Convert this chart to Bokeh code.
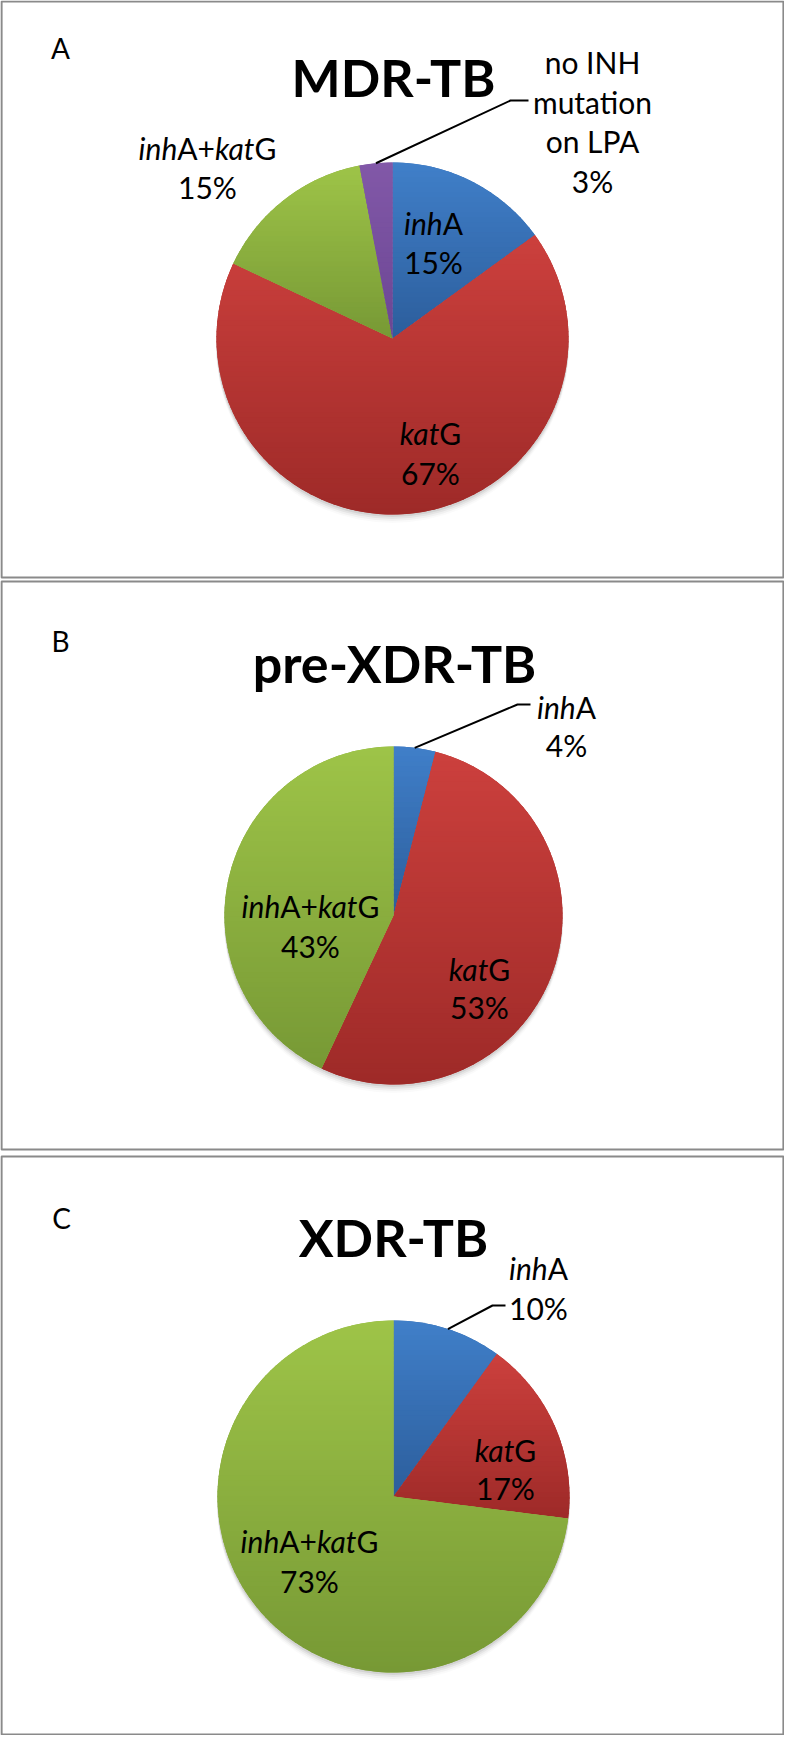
import os, glob
import numpy as np
from bokeh.plotting import figure
from bokeh.models import Range1d
from bokeh.embed import file_html
from bokeh.resources import INLINE
from bokeh.core.properties import value

# ---------------- data ----------------
panel_letters = ["A", "B", "C"]
panel_titles = ["MDR-TB", "pre-XDR-TB", "XDR-TB"]

mdr_categories = ["inhA", "katG", "inhA+katG", "no INH mutation on LPA"]
mdr_values = [15, 67, 15, 3]

prexdr_categories = ["inhA", "katG", "inhA+katG"]
prexdr_values = [4, 53, 43]

xdr_categories = ["inhA", "katG", "inhA+katG"]
xdr_values = [10, 17, 73]

# ---------------- styles ----------------
GRAD = {  # top colour, bottom colour
    "inhA": ((64, 127, 201), (44, 94, 156)),
    "katG": ((204, 64, 61), (158, 42, 40)),
    "inhA+katG": ((158, 196, 72), (119, 153, 53)),
    "no INH mutation on LPA": ((130, 88, 168), (107, 70, 147)),
}
FONT = "Lato"
LABEL_PX = 30
TITLE_PX = 52
LETTER_PX = 28

PAGE_H = 1751
def Y(py):
    return PAGE_H - py

# ---------------- text measurement ----------------
try:
    from PIL import ImageFont
except Exception:
    ImageFont = None

def _find(patterns):
    dirs = ["/usr/share/fonts", "/usr/local/share/fonts",
            os.path.expanduser("~/.fonts"), os.path.expanduser("~/.local/share/fonts")]
    for pat in patterns:
        for d in dirs:
            hits = glob.glob(os.path.join(d, "**", pat), recursive=True)
            if hits:
                return sorted(hits)[0]
    return None

FONT_FILES = {
    "normal": _find(["Lato-Regular.ttf", "Lato-Reg*.ttf"]),
    "italic": _find(["Lato-Italic.ttf", "Lato-*Italic.ttf"]),
    "bold": _find(["Lato-Bold.ttf"]),
}
_cache = {}
def text_width(txt, style, px):
    key = (style, px)
    if key not in _cache:
        f = None
        if ImageFont is not None and FONT_FILES.get(style):
            try:
                f = ImageFont.truetype(FONT_FILES[style], px)
            except Exception:
                f = None
        _cache[key] = f
    f = _cache[key]
    if f is not None:
        try:
            return f.getlength(txt)
        except Exception:
            pass
    return 0.52 * px * len(txt)

def segments(line):
    """split gene names into italic/regular pieces"""
    if line == "inhA+katG":
        return [("inh", "italic"), ("A+", "normal"), ("kat", "italic"), ("G", "normal")]
    if line == "inhA":
        return [("inh", "italic"), ("A", "normal")]
    if line == "katG":
        return [("kat", "italic"), ("G", "normal")]
    return [(line, "normal")]

# ---------------- figure ----------------
p = figure(width=784, height=1735, x_range=Range1d(8, 792), y_range=Range1d(8, 1743),
           output_backend="svg", toolbar_location=None, min_border=0)
p.axis.visible = False
p.grid.visible = False
p.outline_line_color = None
p.background_fill_color = "white"
p.border_fill_color = "white"

def draw_text(line, cx, base_py, px=LABEL_PX):
    segs = segments(line)
    widths = [text_width(t, s, px) for t, s in segs]
    x = cx - sum(widths) / 2.0
    for (t, s), w in zip(segs, widths):
        p.text(x=[x], y=[Y(base_py)], text=[t], text_font=value(FONT),
               text_font_size=value(f"{px}px"), text_font_style=s,
               text_align="left", text_baseline="alphabetic", text_color="black")
        x += w

def clip(poly, y0, keep_above):
    out = []
    n = len(poly)
    for i in range(n):
        P = poly[i]; Q = poly[(i + 1) % n]
        inP = P[1] >= y0 if keep_above else P[1] <= y0
        inQ = Q[1] >= y0 if keep_above else Q[1] <= y0
        if inP:
            out.append(P)
        if inP != inQ:
            t = (y0 - P[1]) / (Q[1] - P[1])
            out.append((P[0] + t * (Q[0] - P[0]), y0))
    return out

def hexc(c):
    return "#%02x%02x%02x" % tuple(int(round(v)) for v in c)

def draw_pie(cats, vals, cx_py, cy_py, r):
    cx, cy = cx_py, Y(cy_py)
    # soft shadow
    for dy, a in [(2, 0.07), (4, 0.05), (6, 0.035), (8, 0.02)]:
        p.ellipse(x=[cx], y=[cy - dy], width=[2 * r + 1], height=[2 * r + 1],
                  fill_color="black", fill_alpha=a, line_color=None)
    frac = np.array(vals, dtype=float) / float(sum(vals))
    ends = np.cumsum(frac) * 2 * np.pi
    starts = ends - frac * 2 * np.pi
    mids = {}
    for cat, b0, b1 in zip(cats, starts, ends):
        top, bot = GRAD[cat]
        mid = tuple((a + b) / 2 for a, b in zip(top, bot))
        p.wedge(x=[cx], y=[cy], radius=r, start_angle=np.pi / 2 - b1, end_angle=np.pi / 2 - b0,
                direction="anticlock", fill_color=hexc(mid), line_color=None)
        # gradient overlay (top -> bottom) clipped to slice
        nseg = max(8, int((b1 - b0) / (2 * np.pi) * 240))
        th = np.linspace(np.pi / 2 - b1, np.pi / 2 - b0, nseg)
        poly = [(cx, cy)] + [(cx + r * np.cos(t), cy + r * np.sin(t)) for t in th]
        ys = [q[1] for q in poly]
        ymin, ymax = min(ys), max(ys)
        nb = max(2, int((ymax - ymin) / 5))
        edges = np.linspace(ymax, ymin, nb + 1)
        xs_l, ys_l, cols = [], [], []
        for k in range(nb):
            hi = edges[k] + 0.7
            lo = edges[k + 1] - 0.7
            sub = clip(clip(poly, hi, False), lo, True)
            if len(sub) < 3:
                continue
            t = (k + 0.5) / nb
            c = tuple(a + (b - a) * t for a, b in zip(top, bot))
            xs_l.append([q[0] for q in sub]); ys_l.append([q[1] for q in sub]); cols.append(hexc(c))
        if xs_l:
            p.patches(xs=xs_l, ys=ys_l, fill_color=cols, line_color=None)
        mids[cat] = (b0 + b1) / 2
    return mids

def leader(cx_py, cy_py, r, bearing, elbow, end):
    sx = cx_py + r * np.sin(bearing)
    sy = cy_py - r * np.cos(bearing)
    p.line(x=[sx, elbow[0], end[0]], y=[Y(sy), Y(elbow[1]), Y(end[1])],
           line_color="black", line_width=2)

# panel frames (page coordinates, clamped to the drawable area)
frames = [(9, 791, 9, 585), (9, 791, 589, 1157), (9, 791, 1164, 1742)]
for l, rr, t, b in frames:
    p.quad(left=[l], right=[rr], top=[Y(t)], bottom=[Y(b)], fill_color=None,
           line_color="#8a8a8a", line_width=2.2)

# panel letters and titles
for letter, (lx, lb) in zip(panel_letters, [(68, 55), (68, 648), (69, 1225)]):
    draw_text(letter, lx, lb, LETTER_PX)
for title, (tx, tb) in zip(panel_titles, [(401, 84), (402, 670), (401, 1244)]):
    p.text(x=[tx], y=[Y(tb)], text=[title], text_font=value(FONT), text_font_size=value(f"{TITLE_PX}px"),
           text_font_style="bold", text_align="center", text_baseline="alphabetic", text_color="black")

def pct(v):
    return f"{v}%"

# ---- panel A ----
mA = draw_pie(mdr_categories, mdr_values, 400, 346, 176)
labA = {
    "inhA": (441, [230, 269.5], ["inhA"]),
    "katG": (438, [440.5, 480], ["katG"]),
    "inhA+katG": (215, [155, 194], ["inhA+katG"]),
    "no INH mutation on LPA": (600, [69, 109, 148.5, 188], ["no INH", "mutation", "on LPA"]),
}
for cat, v in zip(mdr_categories, mdr_values):
    x, bases, lines = labA[cat]
    for ln, b in zip(lines + [pct(v)], bases):
        draw_text(ln, x, b)
leader(400, 346, 176, mA["no INH mutation on LPA"], (518, 108), (536, 108))

# ---- panel B ----
mB = draw_pie(prexdr_categories, prexdr_values, 401, 923, 169)
labB = {
    "inhA": (574, [714, 752]),
    "katG": (487, [976, 1014]),
    "inhA+katG": (318, [913, 953]),
}
for cat, v in zip(prexdr_categories, prexdr_values):
    x, bases = labB[cat]
    draw_text(cat, x, bases[0]); draw_text(pct(v), x, bases[1])
leader(401, 923, 169, mB["inhA"], (525, 712), (538, 712))

# ---- panel C ----
mC = draw_pie(xdr_categories, xdr_values, 401, 1504, 176)
labC = {
    "inhA": (546, [1275, 1315]),
    "katG": (513, [1457, 1495]),
    "inhA+katG": (317, [1548, 1588]),
}
for cat, v in zip(xdr_categories, xdr_values):
    x, bases = labC[cat]
    draw_text(cat, x, bases[0]); draw_text(pct(v), x, bases[1])
leader(401, 1504, 176, mC["inhA"], (500, 1313), (513, 1313))

open("out.html", "w").write(file_html(p, INLINE))
